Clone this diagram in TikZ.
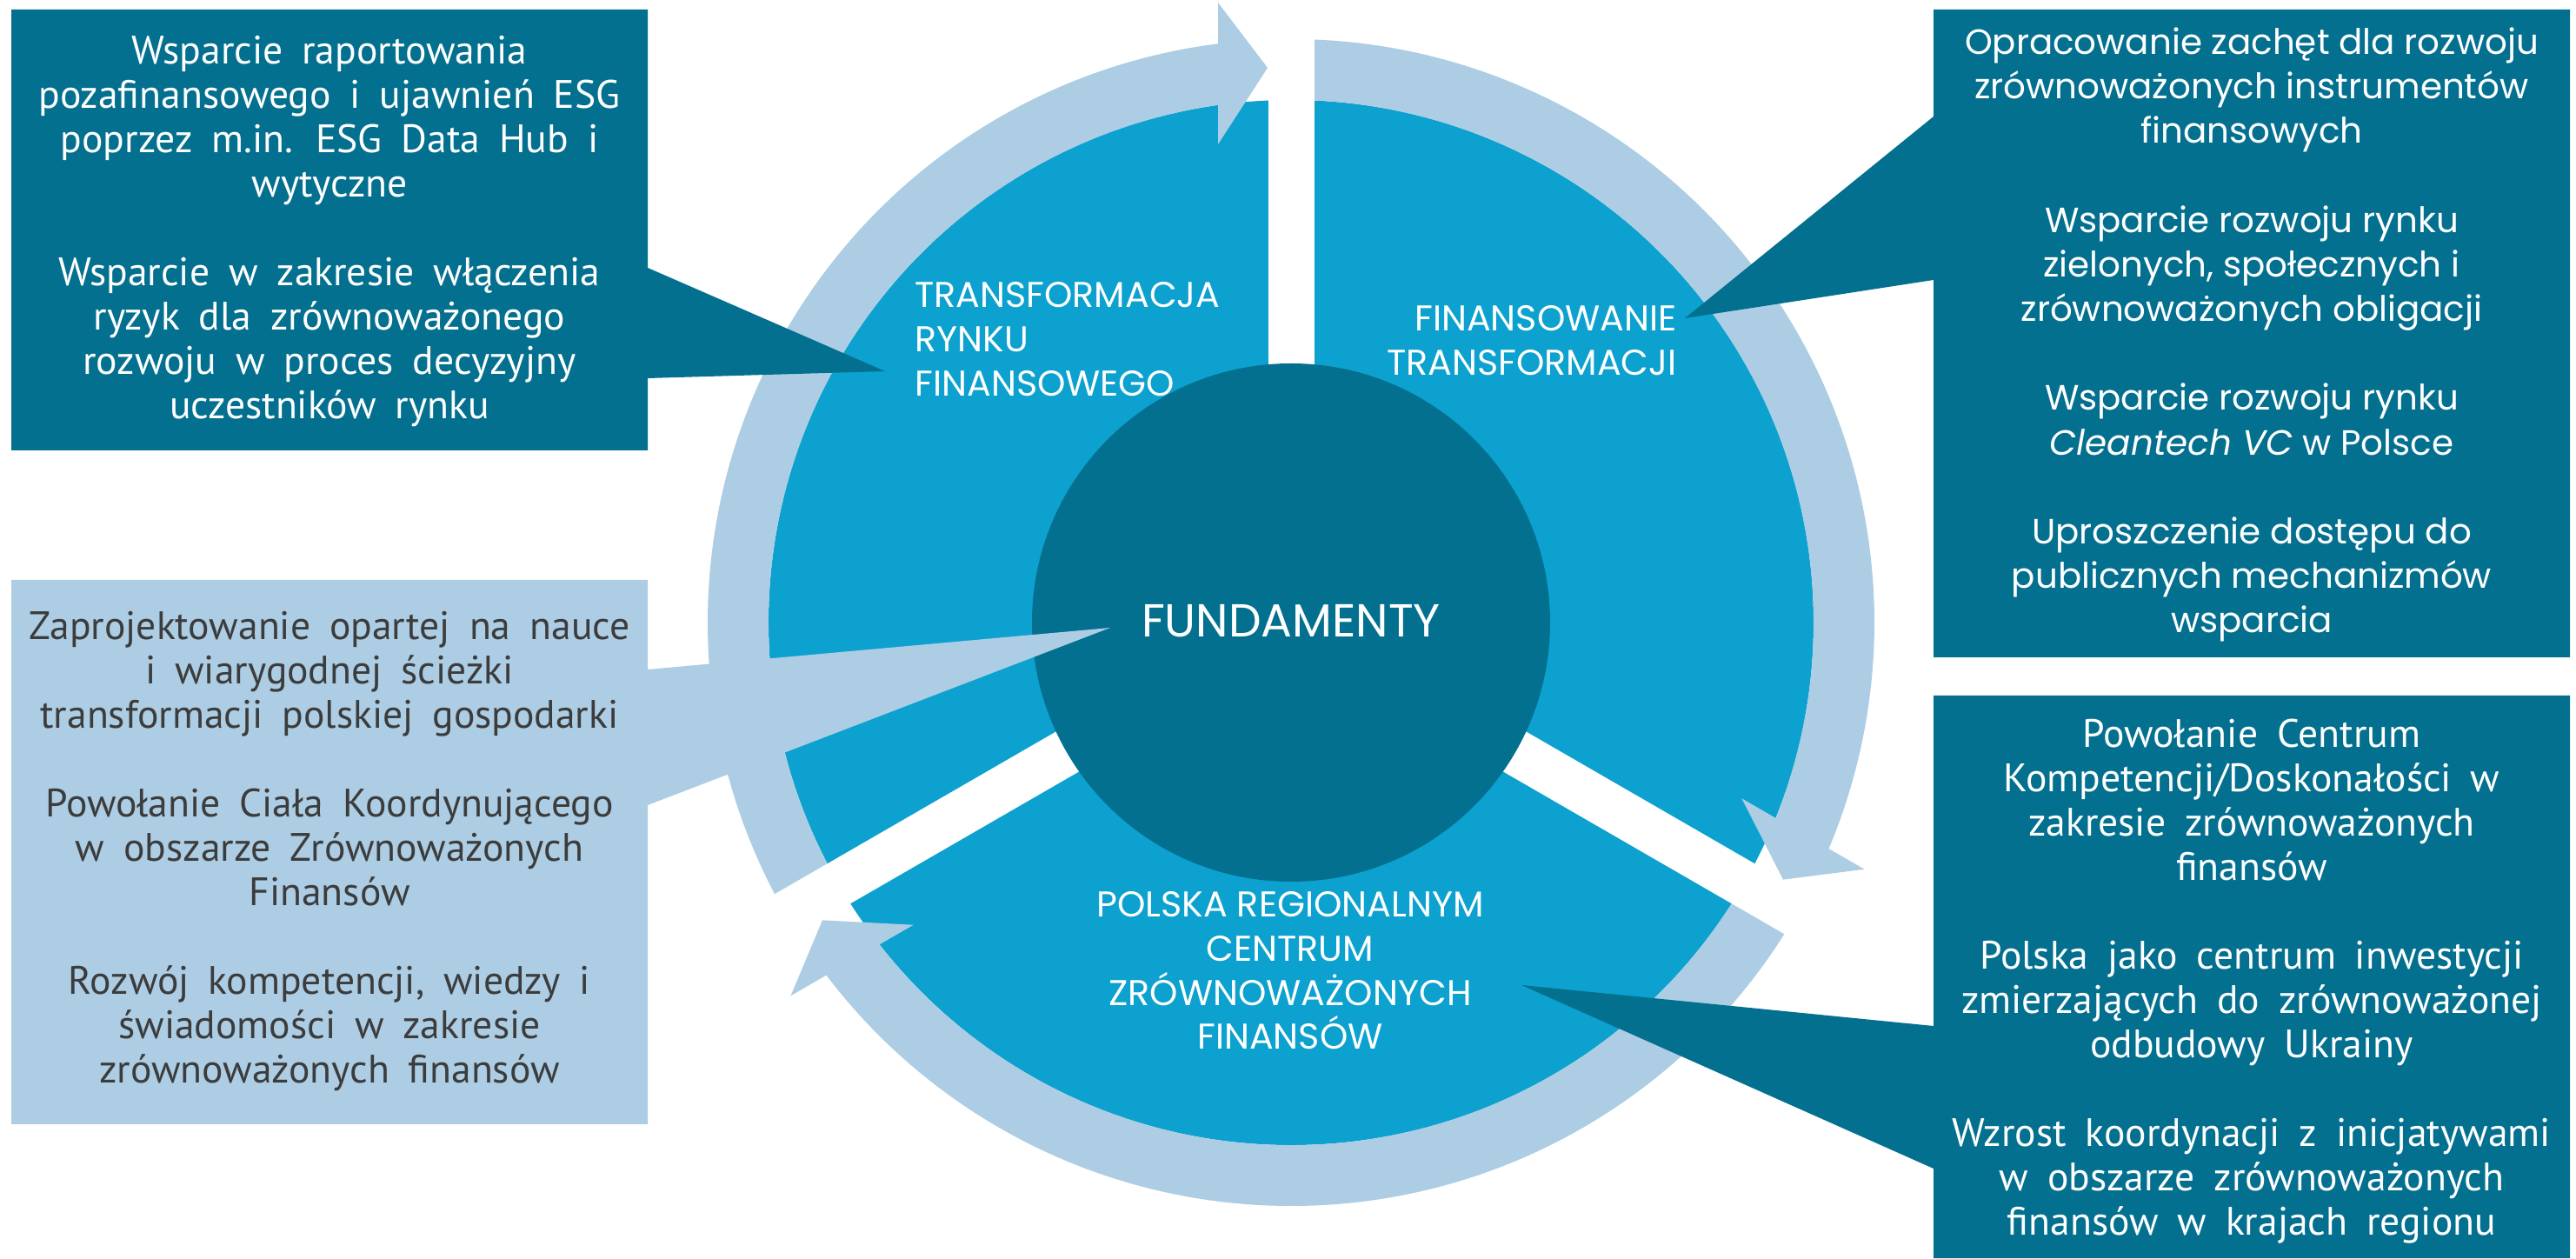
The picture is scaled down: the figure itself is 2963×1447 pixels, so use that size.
\documentclass[tikz,border=0pt]{standalone}
\usepackage{fontspec}
\setmainfont{Poppins}
\newfontfamily\geofont{Poppins}
\newfontfamily\condfont{PT Sans}[WordSpace=1.8]
\definecolor{darkteal}{HTML}{04708F}
\definecolor{midblue}{HTML}{0CA1CF}
\definecolor{lightblue}{HTML}{ACCDE4}
\definecolor{graytext}{HTML}{3C3C3C}
\tikzset{
  condtext/.style={inner sep=0pt, align=center, font=\condfont\fontsize{22.8}{25.5}\selectfont},
  geotext/.style={inner sep=0pt, align=center, font=\geofont\fontsize{20.2}{25.6}\selectfont},
  seclabel/.style={inner sep=0pt, text=white, font=\geofont\fontsize{20.6}{25.35}\selectfont},
}
\begin{document}
\begin{tikzpicture}[x=0.5pt,y=0.5pt]
\useasboundingbox (0,0) rectangle (2963,1447);
\fill[white] (0,0) rectangle (2963,1447);
% pie
\fill[midblue] (1485,731) circle[radius=601];
% ring arrows
\foreach \ang in {0,-120,-240}{
  \fill[lightblue, shift={(1485,731)}, rotate=\ang]
    (210:601) -- (210:671) arc[start angle=210, end angle=97.19, radius=671]
    -- (-84,713) -- (-27,638) -- (-84,550) -- (-84,595.1)
    arc[start angle=98.03, end angle=210, radius=601] -- cycle;
}
% gaps
\foreach \ang in {0,120,240}{
  \fill[white, shift={(1485,731)}, rotate=\ang]
    (-26.5,0) -- (26.5,0) -- (26.5,740) -- (-26.5,740) -- cycle;
}
% centre
\node[circle, fill=darkteal, minimum size=298pt, inner sep=0pt] (fund) at (1485,731) {};
% boxes with pointers
\fill[darkteal] (13,929) rectangle (745,1436) (745,1139) -- (1018,1020) -- (745,1012) -- cycle;
\fill[darkteal] (2224,691) rectangle (2956,1436) (2224,1313) -- (1938,1081) -- (2224,1125) -- cycle;
\fill[lightblue] (13,154) rectangle (745,780) (745,677) -- (1277,725) -- (745,521) -- cycle;
\fill[darkteal] (2224,0) rectangle (2956,647) (2224,267) -- (1750,314) -- (2224,103) -- cycle;
% centre label
\node[inner sep=0pt, text=white, font=\geofont\fontsize{26.6}{30}\selectfont] (fundlabel) at (1485,733) {FUNDAMENTY};
% sector labels
\node[seclabel, anchor=west, align=left] (sec1) at (1052,1057) {TRANSFORMACJA\\RYNKU\\FINANSOWEGO};
\node[seclabel, anchor=east, align=right] (sec2) at (1929,1055.5) {FINANSOWANIE\\TRANSFORMACJI};
\node[seclabel, align=center] (sec3) at (1484,330.5) {POLSKA REGIONALNYM\\CENTRUM\\ZRÓWNOWAŻONYCH\\FINANSÓW};
% box texts
\node[condtext, text=white] (tltext) at (379,1180.5) {Wsparcie raportowania\\pozafinansowego i ujawnień ESG\\poprzez m.in. ESG Data Hub i\\wytyczne\\[25.5pt]Wsparcie w zakresie włączenia\\ryzyk dla zrównoważonego\\rozwoju w proces decyzyjny\\uczestników rynku};
\node[geotext, text=white] (trtext) at (2590,1062) {Opracowanie zachęt dla rozwoju\\zrównoważonych instrumentów\\finansowych\\[25.6pt]Wsparcie rozwoju rynku\\zielonych, społecznych i\\zrównoważonych obligacji\\[25.6pt]Wsparcie rozwoju rynku\\\textit{Cleantech VC} w Polsce\\[25.6pt]Uproszczenie dostępu do\\publicznych mechanizmów\\wsparcia};
\node[condtext, text=graytext] (ltext) at (379,467.5) {Zaprojektowanie opartej na nauce\\i wiarygodnej ścieżki\\transformacji polskiej gospodarki\\[25.5pt]Powołanie Ciała Koordynującego\\w obszarze Zrównoważonych\\Finansów\\[25.5pt]Rozwój kompetencji, wiedzy i\\świadomości w zakresie\\zrównoważonych finansów};
\node[condtext, text=white] (brtext) at (2590,318.5) {Powołanie Centrum\\Kompetencji/Doskonałości w\\zakresie zrównoważonych\\finansów\\[25.5pt]Polska jako centrum inwestycji\\zmierzających do zrównoważonej\\odbudowy Ukrainy\\[25.5pt]Wzrost koordynacji z inicjatywami\\w obszarze zrównoważonych\\finansów w krajach regionu};
\end{tikzpicture}
\end{document}
